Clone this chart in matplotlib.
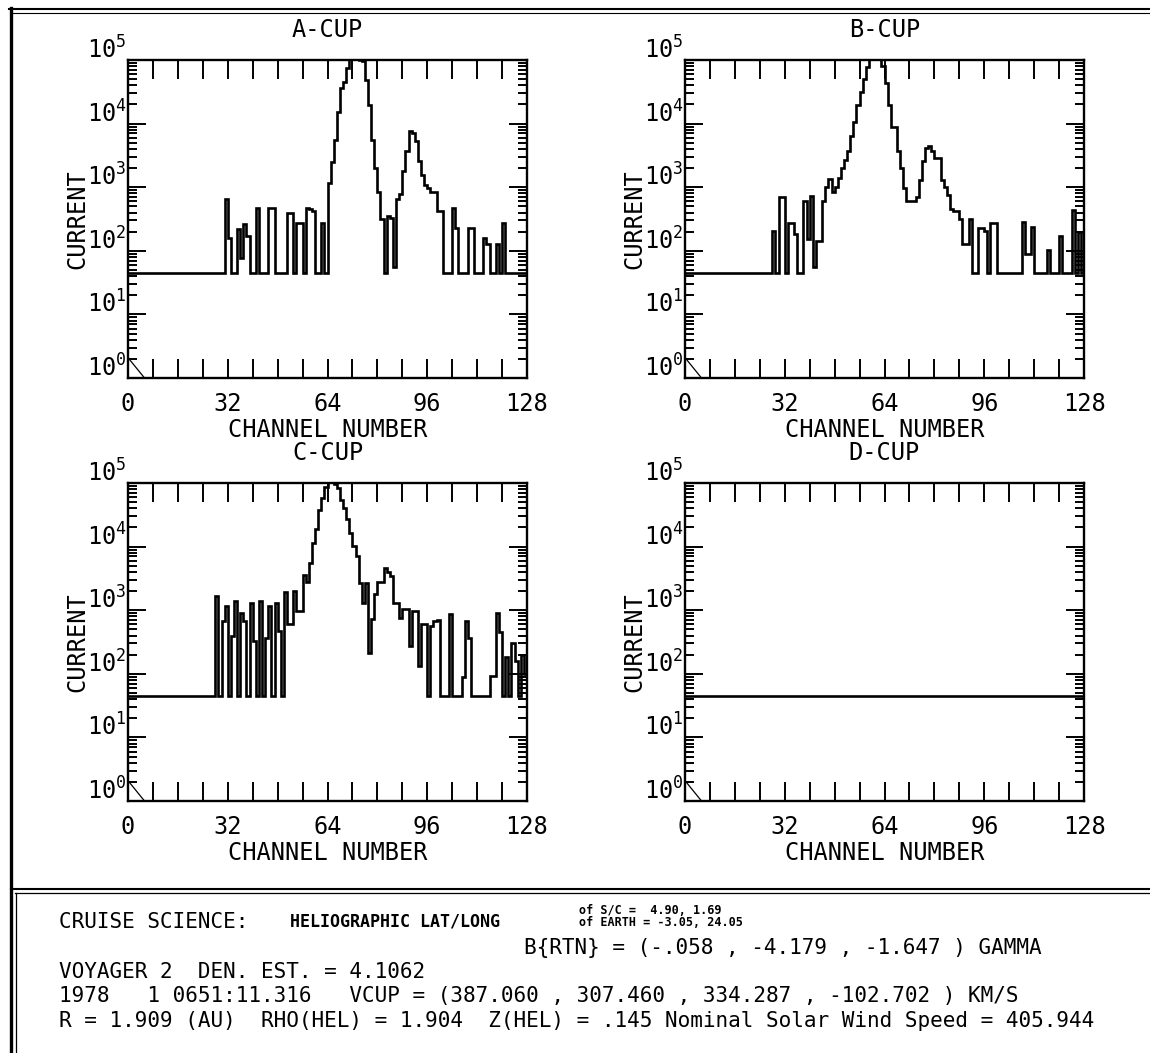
import numpy as np
import matplotlib.pyplot as plt
from matplotlib.lines import Line2D
from matplotlib.ticker import FixedLocator, LogLocator, NullFormatter
from matplotlib.transforms import ScaledTranslation, blended_transform_factory


plt.rcParams.update(
    {
        "font.family": "DejaVu Sans Mono",
        "mathtext.default": "regular",
    }
)

W, H = 1150, 1053

# channel edges; each cup holds log10(current) for channels 0..127
edges = np.arange(129)

a_cup = [
    1.65, 1.65, 1.65, 1.65, 1.65, 1.65, 1.65, 1.65, 1.65, 1.65, 1.65, 1.65, 1.65, 1.65, 1.65, 1.65,
    1.65, 1.65, 1.65, 1.65, 1.65, 1.65, 1.65, 1.65, 1.65, 1.65, 1.65, 1.65, 1.65, 1.65, 1.65, 2.82,
    2.20, 1.65, 1.65, 2.34, 1.88, 2.42, 2.23, 1.65, 1.65, 2.67, 1.65, 1.65, 1.65, 2.67, 2.67, 1.65,
    1.65, 1.65, 1.65, 2.59, 2.59, 1.65, 2.44, 2.44, 1.65, 2.67, 2.65, 2.63, 1.65, 1.65, 2.44, 1.65,
    3.06, 3.40, 3.75, 4.18, 4.56, 4.65, 4.88, 5.04, 5.15, 5.15, 5.00, 4.98, 4.69, 4.29, 3.75, 3.30,
    2.93, 2.50, 1.65, 2.55, 2.52, 1.75, 2.82, 2.90, 3.25, 3.57, 3.89, 3.85, 3.73, 3.41, 3.19, 3.03,
    2.98, 2.93, 2.93, 2.63, 2.63, 1.65, 1.65, 1.65, 2.67, 2.36, 1.65, 1.65, 1.65, 2.36, 2.36, 1.65,
    1.65, 1.65, 2.20, 2.10, 1.65, 1.65, 2.10, 1.65, 2.44, 1.65, 1.65, 1.65, 1.65, 1.65, 1.65, 1.65,
]

b_cup = [
    1.65, 1.65, 1.65, 1.65, 1.65, 1.65, 1.65, 1.65, 1.65, 1.65, 1.65, 1.65, 1.65, 1.65, 1.65, 1.65,
    1.65, 1.65, 1.65, 1.65, 1.65, 1.65, 1.65, 1.65, 1.65, 1.65, 1.65, 1.65, 2.31, 1.65, 2.85, 2.85,
    1.65, 2.44, 2.44, 2.26, 1.65, 1.65, 2.79, 2.19, 2.86, 1.75, 2.15, 2.15, 2.79, 3.00, 3.13, 2.93,
    3.00, 3.14, 3.30, 3.42, 3.57, 3.81, 4.02, 4.29, 4.50, 4.70, 4.89, 5.02, 5.02, 5.15, 5.15, 4.90,
    4.64, 4.29, 3.94, 3.94, 3.57, 3.30, 2.98, 2.79, 2.79, 2.79, 2.85, 3.11, 3.41, 3.62, 3.65, 3.57,
    3.46, 3.46, 3.11, 3.00, 2.87, 2.66, 2.63, 2.63, 2.50, 2.10, 2.10, 2.50, 1.65, 1.65, 2.36, 2.36,
    2.31, 1.65, 2.44, 2.44, 1.65, 1.65, 1.65, 1.65, 1.65, 1.65, 1.65, 1.65, 2.45, 1.95, 1.95, 2.37,
    1.65, 1.65, 1.65, 1.65, 2.01, 1.65, 1.65, 1.65, 2.24, 1.65, 1.65, 1.65, 2.64, 1.65, 2.30, 1.65,
]

c_cup = [
    1.65, 1.65, 1.65, 1.65, 1.65, 1.65, 1.65, 1.65, 1.65, 1.65, 1.65, 1.65, 1.65, 1.65, 1.65, 1.65,
    1.65, 1.65, 1.65, 1.65, 1.65, 1.65, 1.65, 1.65, 1.65, 1.65, 1.65, 1.65, 3.23, 1.65, 2.83, 3.07,
    1.65, 2.59, 3.15, 1.65, 2.96, 2.83, 1.65, 3.11, 2.51, 1.65, 3.15, 1.65, 2.56, 3.07, 1.65, 3.11,
    2.67, 1.65, 3.28, 2.78, 2.78, 3.30, 2.99, 2.99, 3.55, 3.44, 3.74, 4.06, 4.27, 4.57, 4.76, 4.94,
    5.03, 5.03, 4.99, 4.92, 4.73, 4.60, 4.43, 4.22, 4.01, 3.85, 3.42, 3.11, 3.42, 2.32, 2.86, 3.26,
    3.45, 3.45, 3.67, 3.60, 3.54, 3.11, 3.11, 2.88, 3.02, 3.02, 2.43, 2.99, 2.99, 2.13, 2.78, 2.78,
    1.65, 2.75, 2.83, 2.85, 1.65, 1.65, 1.65, 2.94, 1.65, 1.65, 1.65, 1.95, 2.83, 2.56, 1.65, 1.65,
    1.65, 1.65, 1.65, 1.65, 1.97, 1.97, 2.96, 2.66, 1.65, 2.26, 1.65, 2.48, 2.20, 1.65, 2.30, 2.00,
]

# D cup only shows the floor level
d_cup = [1.65] * 128

# little diagonal stub in every lower-left corner
corner_x = [0.0, 5.3]
corner_log = [0.32, 0.0]

cup_names = ["A-CUP", "B-CUP", "C-CUP", "D-CUP"]
cup_data = [a_cup, b_cup, c_cup, d_cup]

decades = [0, 1, 2, 3, 4, 5]
x_ticks = list(range(0, 129, 8))
x_labels = [str(t) if t % 32 == 0 else "" for t in x_ticks]

header_lines = [
    "B{RTN} = (-.058 , -4.179 , -1.647 ) GAMMA",
    "VOYAGER 2  DEN. EST. = 4.1062",
    "1978   1 0651:11.316   VCUP = (387.060 , 307.460 , 334.287 , -102.702 ) KM/S",
    "R = 1.909 (AU)  RHO(HEL) = 1.904  Z(HEL) = .145 Nominal Solar Wind Speed = 405.944",
]


fig = plt.figure(figsize=(W / 100, H / 100), dpi=100)
fig.patch.set_facecolor("white")

ax_w, ax_h = 399, 318
origins = [(128, 60), (685, 60), (128, 483), (685, 483)]
fs = 17

for name, vals, (x0, y0) in zip(cup_names, cup_data, origins):
    ax = fig.add_axes([x0 / W, 1 - (y0 + ax_h) / H, ax_w / W, ax_h / H])
    ax.stairs(10 ** np.array(vals), edges, baseline=None, color="black", lw=1.9)
    ax.plot(corner_x, 10 ** np.array(corner_log), color="black", lw=0.9)

    ax.set_yscale("log")
    ax.set_xlim(0, 128)
    ax.set_ylim(1, 1e5)

    ax.set_xticks(x_ticks)
    ax.set_xticklabels(x_labels)
    ax.yaxis.set_major_locator(FixedLocator([10.0**k for k in decades]))
    ax.yaxis.set_minor_locator(LogLocator(base=10, subs=np.arange(2, 10), numticks=20))
    ax.yaxis.set_major_formatter(NullFormatter())
    ax.yaxis.set_minor_formatter(NullFormatter())

    ax.tick_params(axis="x", direction="in", length=14, width=1.4, top=True,
                   labelsize=fs, pad=10)
    ax.tick_params(axis="y", which="major", direction="in", length=13, width=1.4, right=True)
    ax.tick_params(axis="y", which="minor", direction="in", length=6.5, width=1.4, right=True)
    for sp in ax.spines.values():
        sp.set_linewidth(1.7)

    # decade labels sit a little above their ticks, as in the original
    trans = blended_transform_factory(ax.transAxes, ax.transData) + ScaledTranslation(
        0, 0.10, fig.dpi_scale_trans
    )
    for k in decades:
        ax.text(-0.004, 10.0**k, "$10^{%d}$" % k, transform=trans,
                ha="right", va="center", fontsize=fs)

    ax.text(0.5, 1 + 30 / ax_h, name, transform=ax.transAxes,
            ha="center", va="center", fontsize=fs)
    ax.text(0.5, -52 / ax_h, "CHANNEL NUMBER", transform=ax.transAxes,
            ha="center", va="center", fontsize=fs)
    ax.text(-51 / ax_w, 0.5, "CURRENT", transform=ax.transAxes, rotation=90,
            ha="center", va="center", fontsize=fs)


def hline(y, x1, x2, lw):
    fig.add_artist(Line2D([x1 / W, x2 / W], [1 - y / H, 1 - y / H],
                          transform=fig.transFigure, color="black", lw=lw))


def vline(x, y1, y2, lw):
    fig.add_artist(Line2D([x / W, x / W], [1 - y1 / H, 1 - y2 / H],
                          transform=fig.transFigure, color="black", lw=lw))


# frame around the plots and the info box below
hline(9, 9, W, 1.5)
hline(12.5, 12, W, 0.8)
vline(11, 8, H, 2.4)
hline(889, 11, W, 1.5)
hline(893, 15, W, 0.9)
vline(16, 893, H, 0.9)

fs_info = 15.1
fig.text(59 / W, 1 - 922 / H, "CRUISE SCIENCE:", fontsize=fs_info, va="center")
fig.text(290 / W, 1 - 922 / H, "HELIOGRAPHIC LAT/LONG", fontsize=12, va="center",
         fontweight="bold")
fig.text(579 / W, 1 - 911 / H, "of S/C =  4.90, 1.69", fontsize=8.5, va="center",
         fontweight="bold")
fig.text(579 / W, 1 - 923 / H, "of EARTH = -3.05, 24.05", fontsize=8.5, va="center",
         fontweight="bold")
fig.text(524 / W, 1 - 948 / H, header_lines[0], fontsize=fs_info, va="center")
for line, y in zip(header_lines[1:], [972, 996, 1021]):
    fig.text(59 / W, 1 - y / H, line, fontsize=fs_info, va="center")

fig.savefig("out.png", dpi=100, facecolor="white")
